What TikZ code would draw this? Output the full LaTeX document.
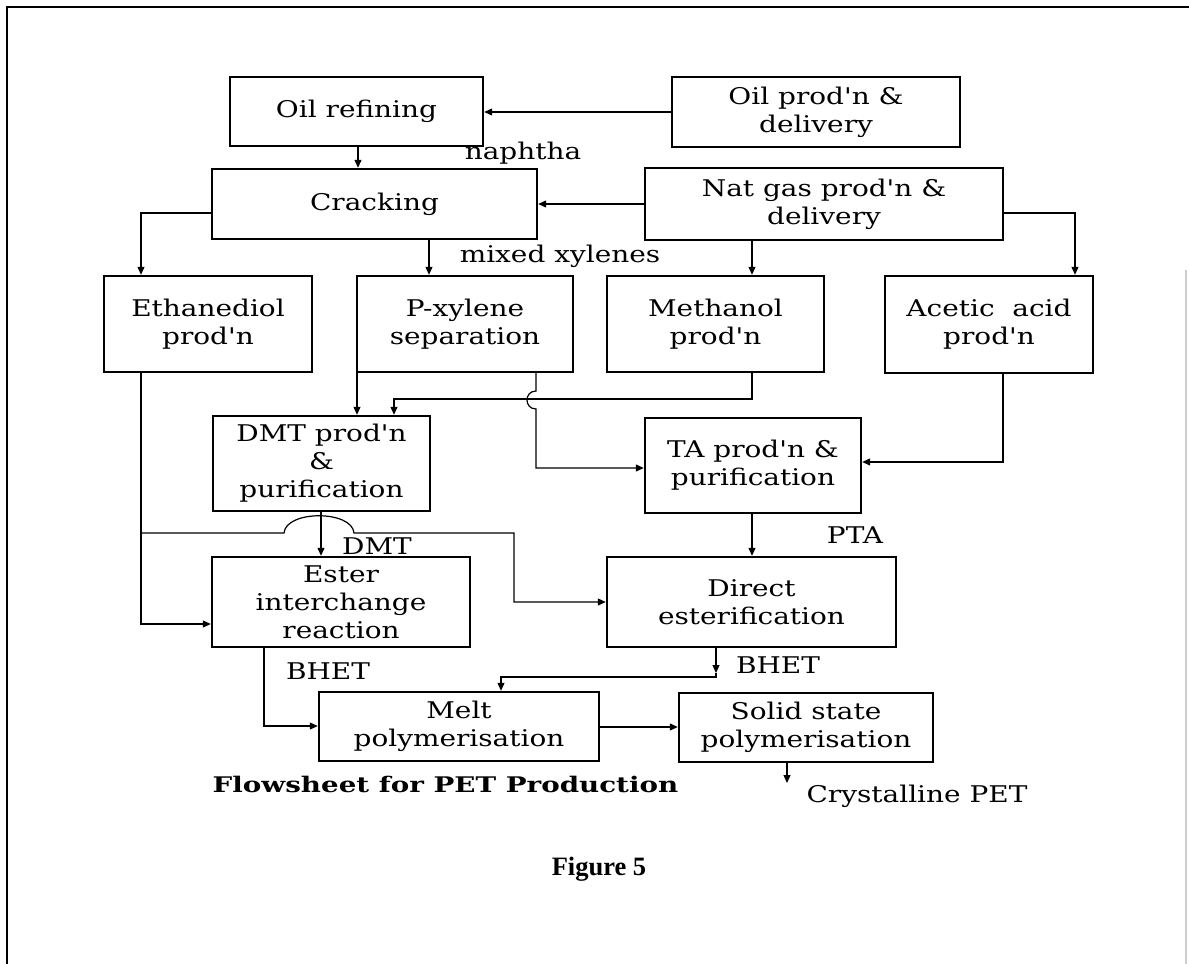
\documentclass[tikz,border=0pt]{standalone}
\usepackage{fontspec}
\usetikzlibrary{arrows.meta}
\newfontfamily\boxfont{DejaVu Serif}[FakeStretch=1.215]
\newfontfamily\headfont{DejaVu Serif}[FakeStretch=1.29]
\newfontfamily\capfont{Liberation Serif}
\begin{document}
\begin{tikzpicture}[x=1pt,y=-1pt,
  box/.style={draw, line width=2.4pt, align=center, inner sep=2pt,
    font=\boxfont\fontsize{23}{28}\selectfont},
  lbl/.style={inner sep=0pt, font=\boxfont\fontsize{23}{28}\selectfont},
  conn/.style={line width=1.2pt},
  arr/.style={conn, -{Triangle[length=8pt,width=7pt]}}]
\fill[white] (0,0) rectangle (1189,964);
\useasboundingbox (0,0) rectangle (1189,964);
% page frame
\draw[line width=2.4pt] (1189,7) -- (7,7) -- (7,964);
\draw[gray!40, line width=1.5pt] (1186,270) -- (1186,964);

% process boxes
\node[box, minimum width=253pt, minimum height=69pt] (oilref)  at (356.5,111.5) {Oil refining};
\node[box, minimum width=288pt, minimum height=70pt] (oilprod) at (816,112) {Oil prod'n \&\\delivery};
\node[box, minimum width=325pt, minimum height=70pt] (crack)   at (374.5,204) {Cracking};
\node[box, minimum width=358pt, minimum height=72pt] (natgas)  at (824,204) {Nat gas prod'n \&\\delivery};
\node[box, minimum width=208pt, minimum height=96pt] (ethane)  at (208,324) {Ethanediol\\prod'n};
\node[box, minimum width=216pt, minimum height=96pt] (pxyl)    at (465,324) {P-xylene\\separation};
\node[box, minimum width=217pt, minimum height=96pt] (meth)    at (715.5,324) {Methanol\\prod'n};
\node[box, minimum width=208pt, minimum height=97pt] (acetic)  at (989,324.5) {Acetic\ \ acid\\prod'n};
\node[box, minimum width=217pt, minimum height=95pt] (dmt)     at (321.5,463.5) {DMT prod'n\\\&\\purification};
\node[box, minimum width=216pt, minimum height=95pt] (ta)      at (753,465.5) {TA prod'n \&\\purification};
\node[box, minimum width=258pt, minimum height=90pt] (ester)   at (341,602) {Ester\\interchange\\reaction};
\node[box, minimum width=289pt, minimum height=90pt] (direct)  at (751.5,602) {Direct\\esterification};
\node[box, minimum width=280pt, minimum height=69pt] (melt)    at (459,726.5) {Melt\\polymerisation};
\node[box, minimum width=254pt, minimum height=69pt] (solid)   at (806,727.5) {Solid state\\polymerisation};

% stream labels
\node[lbl] (naphtha) at (523,153) {naphtha};
\node[lbl] (mixed)   at (560,256) {mixed xylenes};
\node[lbl] (dmtlbl)  at (377,546) {DMT};
\node[lbl] (ptalbl)  at (855,535) {PTA};
\node[lbl] (bhetA)   at (328,671) {BHET};
\node[lbl] (bhetB)   at (778,665) {BHET};
\node[lbl] (cryst)   at (917,796) {Crystalline PET};
\node[inner sep=0pt, font=\headfont\bfseries\fontsize{21.5}{26}\selectfont] (title) at (445.5,784) {Flowsheet for PET Production};
\node[inner sep=0pt, font=\capfont\bfseries\fontsize{26.5}{30}\selectfont] (figno) at (599,869) {Figure 5};

% free ends and junctions
\coordinate (bhetmid) at (716,673);
\coordinate (petout) at (787,783);

% connectors
\draw[arr] (oilprod.west) -- (oilprod.west -| oilref.east);
\draw[arr] (358,0 |- oilref.south) -- (358,0 |- crack.north);
\draw[arr] (natgas.west) -- (natgas.west -| crack.east);
\draw[arr] (crack.west |- 0,213) -| (141,0 |- ethane.north);
\draw[arr] (429,0 |- crack.south) -- (429,0 |- pxyl.north);
\draw[arr] (752,0 |- natgas.south) -- (752,0 |- meth.north);
\draw[arr] (natgas.east |- 0,213) -| (1075,0 |- acetic.north);
\draw[arr] (357,0 |- pxyl.south) -- (357,0 |- dmt.north);
\draw[arr] (752,0 |- meth.south) -- (752,399) -| (394,0 |- dmt.north);
\draw[arr] (536,0 |- pxyl.south) -- (536,391) .. controls (524,391) and (524,409) .. (536,409) |- (ta.west |- 0,468);
\draw[arr] (1003,0 |- acetic.south) |- (ta.east |- 0,462);
\draw[arr] (752,0 |- ta.south) -- (752,0 |- direct.north);
\draw[arr] (321,0 |- dmt.south) -- (321,0 |- ester.north);
\draw[arr] (141,0 |- ethane.south) |- (ester.west |- 0,624);
\draw[arr] (141,533) -- (284,533) .. controls (286,510) and (352,510) .. (354,533) -- (514,533) |- (direct.west |- 0,602);
\draw[arr] (264,0 |- ester.south) |- (melt.west |- 0,726);
\draw[arr] (716,0 |- direct.south) -- (bhetmid);
\draw[arr] (bhetmid) |- (501,677) -- (501,0 |- melt.north);
\draw[arr] (melt.east |- 0,727) -- (solid.west |- 0,727);
\draw[arr] (787,0 |- solid.south) -- (petout);
\end{tikzpicture}
\end{document}
